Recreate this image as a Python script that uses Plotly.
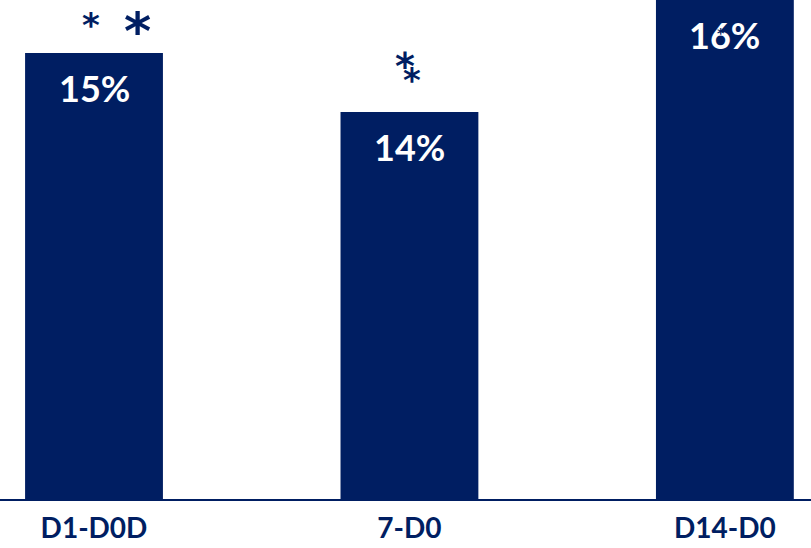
import plotly.graph_objects as go

categories = ["D1-D0D", "7-D0", "D14-D0"]
values = [15, 14, 16]
labels = ["15%", "14%", "16%"]

NAVY = "#001e62"
Y_RANGE = [7.44, 15.9]

fig = go.Figure()
fig.add_trace(go.Bar(
    x=categories, y=values, marker=dict(color=NAVY, line=dict(width=0)),
    width=0.437, hoverinfo="skip",
))

for c, v, t in zip(categories, values, labels):
    fig.add_annotation(x=c, y=min(v, Y_RANGE[1]), text=t, showarrow=False,
                       yanchor="middle", yshift=-35,
                       font=dict(family="Lato", size=36, color="white", weight="bold"))

# significance markers: (category index, font size, xshift px, yshift px above bar top)
star_cat = [0, 0, 1, 1, 2]
star_size = [34, 52, 38, 34, 14]
star_dx = [-3, 43, -4, 3, -4]
star_dy = [36, 34, 54, 40, -30]
for i, s, dx, dy in zip(star_cat, star_size, star_dx, star_dy):
    fig.add_annotation(x=categories[i], y=min(values[i], Y_RANGE[1]), text="*",
                       showarrow=False, yanchor="middle", xanchor="center",
                       xshift=dx, yshift=dy - 0.22 * s,
                       font=dict(family="DejaVu Sans", size=s, color=NAVY, weight="bold"))

fig.update_layout(
    width=811, height=548,
    margin=dict(l=0, r=0, t=0, b=49),
    paper_bgcolor="white", plot_bgcolor="white",
    showlegend=False,
    xaxis=dict(range=[-0.298, 2.273], showgrid=False, zeroline=False,
               showline=True, linecolor=NAVY, linewidth=1.5, ticks="",
               ticklabelstandoff=4,
               tickfont=dict(family="Lato", size=28, color=NAVY, weight="bold")),
    yaxis=dict(range=Y_RANGE, visible=False, showgrid=False),
)

fig.write_html("out.html", config={"displayModeBar": False},
               post_script="document.body.style.margin='0';")
